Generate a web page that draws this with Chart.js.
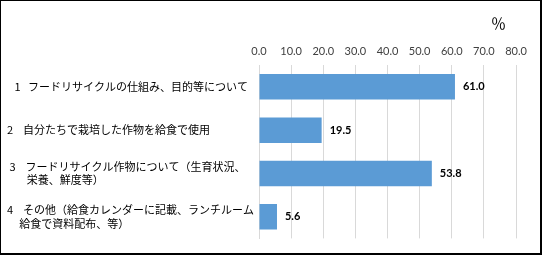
<!DOCTYPE html>
<html>
<head>
<meta charset="utf-8">
<script src="https://cdn.jsdelivr.net/npm/chart.js@4"></script>
<style>
  body { margin: 0; background: #fff; }
  #wrap { width: 542px; height: 255px; box-sizing: border-box; border: 1px solid #000; border-right-width: 2px; border-bottom-width: 2px; }
</style>
</head>
<body>
<div id="wrap"><canvas id="c" width="539" height="252"></canvas></div>
<script>
  var labels = [
    '   1   フードリサイクルの仕組み、目的等について',
    '2    自分たちで栽培した作物を給食で使用',
    [' 3    フードリサイクル作物について（生育状況、', '        栄養、鮮度等）'],
    ['4    その他（給食カレンダーに記載、ランチルーム', '     給食で資料配布、等）']
  ];
  var values = [61.0, 19.5, 53.8, 5.6];
  var unit = '％   ';

  // value labels at the bar ends
  var valueLabels = {
    id: 'valueLabels',
    afterDatasetsDraw: function(chart) {
      var ctx = chart.ctx;
      var meta = chart.getDatasetMeta(0);
      ctx.save();
      ctx.font = 'bold 11px Lato';
      ctx.fillStyle = '#000';
      ctx.textBaseline = 'middle';
      meta.data.forEach(function(bar, i) {
        ctx.fillText(values[i].toFixed(1), bar.x + 8, bar.y);
      });
      ctx.restore();
    }
  };

  var chart = new Chart(document.getElementById('c'), {
    type: 'bar',
    data: {
      labels: labels,
      datasets: [{
        data: values,
        backgroundColor: '#5B9BD5',
        barPercentage: 0.59,
        categoryPercentage: 1
      }]
    },
    options: {
      indexAxis: 'y',
      responsive: false,
      animation: false,
      layout: { padding: { left: 6, right: 24, top: 13, bottom: 8 } },
      plugins: { legend: { display: false }, tooltip: { enabled: false } },
      scales: {
        x: {
          position: 'top',
          min: 0,
          max: 80,
          ticks: {
            stepSize: 10,
            padding: 7,
            color: '#404040',
            font: { family: 'Lato', size: 11 },
            callback: function(v) { return v.toFixed(1); }
          },
          grid: { color: '#d9d9d9', drawTicks: false },
          border: { display: false },
          title: {
            display: true,
            text: unit,
            align: 'end',
            color: '#000',
            font: { family: 'Noto Sans CJK JP', size: 15 },
            padding: { top: 0, bottom: 6 }
          }
        },
        y: {
          afterFit: function(scale) { scale.width = 252; },
          ticks: {
            crossAlign: 'far',
            color: '#000',
            font: { family: 'Noto Sans CJK JP', size: 11 },
            padding: 8
          },
          grid: { display: false },
          border: { display: true, color: '#d9d9d9' }
        }
      }
    },
    plugins: [valueLabels]
  });
</script>
</body>
</html>
